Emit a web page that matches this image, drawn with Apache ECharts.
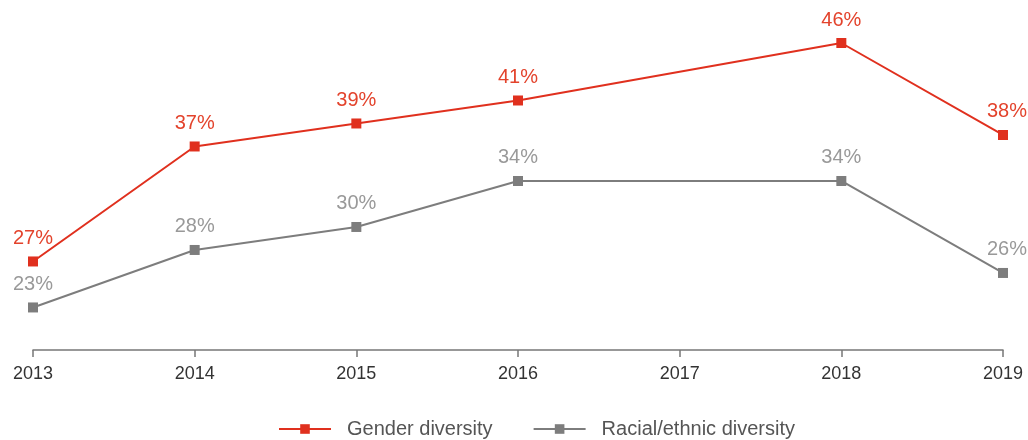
<!DOCTYPE html>
<html>
<head>
<meta charset="utf-8">
<script src="https://cdn.jsdelivr.net/npm/echarts@6/dist/echarts.min.js"></script>
<style>
  html, body { margin: 0; padding: 0; background: #fff; }
  #chart { width: 1028px; height: 440px; }
</style>
</head>
<body>
<div id="chart"></div>
<script>
// Share of boards with diversity, by year (2017 not reported)
var years = ['2013', '2014', '2015', '2016', '2017', '2018', '2019'];
var genderDiversity = [27, 37, 39, 41, null, 46, 38];
var racialDiversity = [23, 28, 30, 34, null, 34, 26];
var seriesNames = ['Gender diversity', 'Racial/ethnic diversity'];

var RED = '#E0301E';
var GREY = '#7D7D7D';
var FONT = '"Liberation Sans", Arial, sans-serif';

function isLast(p) {
  return p.dataIndex === years.length - 1;
}

function makeSeries(name, data, color, labelColor) {
  return {
    name: name,
    type: 'line',
    data: data,
    connectNulls: true,
    symbol: 'rect',
    symbolSize: 10,
    lineStyle: { color: color, width: 2 },
    itemStyle: { color: color },
    label: {
      show: true,
      position: 'top',
      distance: 8,
      color: labelColor,
      fontFamily: FONT,
      fontSize: 20,
      formatter: function (p) { return p.value + '%'; }
    },
    labelLayout: function (p) {
      return isLast(p) ? { dx: 4 } : {};
    },
    emphasis: { disabled: true },
    animation: false
  };
}

var chart = echarts.init(document.getElementById('chart'));
chart.setOption({
  backgroundColor: '#fff',
  animation: false,
  grid: { left: 33, right: 25, top: 20, bottom: 90 },
  legend: {
    bottom: -4,
    left: 273,
    itemWidth: 52,
    itemHeight: 12,
    itemGap: 40,
    textStyle: { fontFamily: FONT, fontSize: 20, color: '#555', padding: [0, 0, 0, 11] },
    data: seriesNames
  },
  xAxis: {
    type: 'category',
    data: years,
    boundaryGap: false,
    axisLine: { lineStyle: { color: '#777', width: 1.5 } },
    axisTick: { show: true, length: 7, lineStyle: { color: '#777', width: 1.5 } },
    axisLabel: { color: '#333', fontFamily: FONT, fontSize: 18, margin: 15 },
    splitLine: { show: false }
  },
  yAxis: {
    type: 'value',
    min: 19.3,
    max: 48,
    show: false,
    splitLine: { show: false }
  },
  series: [
    makeSeries(seriesNames[0], genderDiversity, RED, '#E3432C'),
    makeSeries(seriesNames[1], racialDiversity, GREY, '#999999')
  ]
});
</script>
</body>
</html>
